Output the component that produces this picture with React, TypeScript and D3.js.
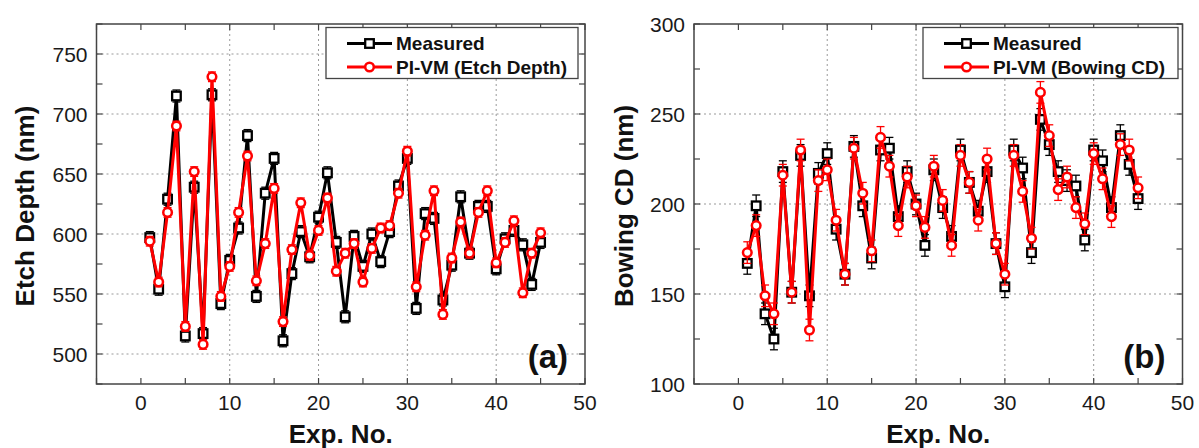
import React from "react";
import * as d3 from "d3";

const expNo = d3.range(1, 46);
const xTicks = [0, 10, 20, 30, 40, 50];

const etchMeasured = [597, 554, 629, 715, 515, 639, 517, 716, 542, 578, 605, 682, 548, 634, 663, 511, 567, 602, 581, 614, 651, 593, 531, 598, 573, 600, 577, 602, 640, 663, 538, 617, 613, 545, 574, 631, 584, 623, 623, 571, 596, 603, 591, 558, 593];
const etchPred = [594, 560, 618, 690, 523, 652, 508, 731, 548, 573, 618, 665, 561, 592, 638, 527, 587, 626, 582, 603, 630, 569, 584, 592, 560, 588, 605, 607, 634, 669, 556, 599, 636, 533, 580, 610, 584, 618, 636, 576, 593, 611, 551, 584, 601];
const etchTicks = [500, 550, 600, 650, 700, 750];
const etchErr = [5, 4];

const bowMeasured = [167, 199, 139, 125, 218, 151, 227, 149, 217, 228, 186, 161, 232, 199, 170, 230, 231, 193, 218, 200, 177, 219, 198, 182, 230, 212, 196, 218, 178, 154, 230, 220, 173, 247, 233, 218, 213, 210, 180, 230, 224, 198, 238, 222, 203];
const bowPred = [173, 188, 149, 139, 216, 151, 230, 130, 213, 219, 191, 161, 231, 206, 174, 237, 221, 188, 215, 199, 187, 221, 202, 177, 227, 212, 191, 225, 178, 161, 227, 207, 181, 262, 238, 208, 215, 198, 189, 228, 214, 193, 233, 230, 209];
const bowTicks = [100, 150, 200, 250, 300];
const bowErr = [6, 6];

const FONT = "'Liberation Sans', Arial, Helvetica, sans-serif";
const FRAME = "#444";

type PanelProps = {
  x0: number;
  x1: number;
  yDomain: [number, number];
  yTicks: number[];
  measured: number[];
  pred: number[];
  err: number[];
  yTitle: string;
  predLabel: string;
  tag: string;
  titleX: number;
  legendLeft: number;
  legendRight: number;
};

function Panel(p: PanelProps) {
  const top = 24;
  const bottom = 384;
  const x = d3.scaleLinear().domain([-5, 50]).range([p.x0, p.x1]);
  const y = d3.scaleLinear().domain(p.yDomain).range([bottom, top]);
  const line = d3
    .line<number>()
    .x((_, i) => x(expNo[i]))
    .y((d) => y(d));
  const minorX = d3.range(-5, 51, 5);
  const minorY = d3.range(p.yDomain[0], p.yDomain[1] + 0.1, (p.yTicks[1] - p.yTicks[0]) / 2);
  const tickLen = 6;
  const cap = 4;

  const errBars = (vals: number[], e: number, color: string) =>
    vals.map((v, i) => {
      const cx = x(expNo[i]);
      const y1 = y(v + e);
      const y2 = y(v - e);
      return (
        <g key={i} stroke={color} strokeWidth={1.3}>
          <line x1={cx} x2={cx} y1={y1} y2={y2} />
          <line x1={cx - cap} x2={cx + cap} y1={y1} y2={y1} />
          <line x1={cx - cap} x2={cx + cap} y1={y2} y2={y2} />
        </g>
      );
    });

  const ly1 = 43.5;
  const ly2 = 67;
  const lx0 = p.legendLeft + 21;
  const lx1 = lx0 + 45;
  const lmx = (lx0 + lx1) / 2;

  return (
    <g>
      {/* grid */}
      {xTicks.slice(1, -1).map((t) => (
        <line key={"gx" + t} x1={x(t)} x2={x(t)} y1={top} y2={bottom} stroke="#999" strokeWidth={1} strokeDasharray="2,3" />
      ))}
      {p.yTicks.filter((t) => t > p.yDomain[0] && t < p.yDomain[1]).map((t) => (
        <line key={"gy" + t} x1={p.x0} x2={p.x1} y1={y(t)} y2={y(t)} stroke="#999" strokeWidth={1} strokeDasharray="2,3" />
      ))}
      {/* ticks */}
      {minorX.map((t) => (
        <g key={"tx" + t} stroke={FRAME} strokeWidth={1.2}>
          <line x1={x(t)} x2={x(t)} y1={bottom} y2={bottom - tickLen} />
          <line x1={x(t)} x2={x(t)} y1={top} y2={top + tickLen} />
        </g>
      ))}
      {minorY.map((t) => (
        <g key={"ty" + t} stroke={FRAME} strokeWidth={1.2}>
          <line x1={p.x0} x2={p.x0 + tickLen} y1={y(t)} y2={y(t)} />
          <line x1={p.x1} x2={p.x1 - tickLen} y1={y(t)} y2={y(t)} />
        </g>
      ))}
      {/* frame */}
      <rect x={p.x0} y={top} width={p.x1 - p.x0} height={bottom - top} fill="none" stroke={FRAME} strokeWidth={1.5} />
      {/* tick labels */}
      {xTicks.map((t) => (
        <text key={"lx" + t} x={x(t)} y={410} textAnchor="middle" fontFamily={FONT} fontSize={21} fill="#1a1a1a">
          {t}
        </text>
      ))}
      {p.yTicks.map((t) => (
        <text key={"ly" + t} x={p.x0 - 9} y={y(t) + 7.5} textAnchor="end" fontFamily={FONT} fontSize={21} fill="#1a1a1a">
          {t}
        </text>
      ))}
      {/* axis titles */}
      <text x={(p.x0 + p.x1) / 2} y={443} textAnchor="middle" fontFamily={FONT} fontSize={26} fontWeight="bold" fill="#111">
        Exp. No.
      </text>
      <text
        transform={`translate(${p.titleX},${(top + bottom) / 2 + 2}) rotate(-90)`}
        textAnchor="middle"
        fontFamily={FONT}
        fontSize={26}
        fontWeight="bold"
        fill="#111"
      >
        {p.yTitle}
      </text>
      {/* measured */}
      {errBars(p.measured, p.err[0], "#000")}
      <path d={line(p.measured) || ""} fill="none" stroke="#000" strokeWidth={3} strokeLinejoin="round" />
      {p.measured.map((v, i) => (
        <rect key={"m" + i} x={x(expNo[i]) - 4.3} y={y(v) - 4.3} width={8.6} height={8.6} fill="#fff" stroke="#000" strokeWidth={2.3} />
      ))}
      {/* predicted */}
      {errBars(p.pred, p.err[1], "#f00")}
      <path d={line(p.pred) || ""} fill="none" stroke="#f00" strokeWidth={3} strokeLinejoin="round" />
      {p.pred.map((v, i) => (
        <circle key={"p" + i} cx={x(expNo[i])} cy={y(v)} r={4.3} fill="#fff" stroke="#f00" strokeWidth={2.5} />
      ))}
      {/* tag */}
      <text x={p.x1 - 17} y={368} textAnchor="end" fontFamily={FONT} fontSize={33} fontWeight="bold" fill="#111">
        {p.tag}
      </text>
      {/* legend */}
      <rect x={p.legendLeft} y={27.5} width={p.legendRight - p.legendLeft} height={51} fill="#fff" stroke={FRAME} strokeWidth={1.3} />
      <line x1={lx0} x2={lx1} y1={ly1} y2={ly1} stroke="#000" strokeWidth={3} />
      <rect x={lmx - 4.3} y={ly1 - 4.3} width={8.6} height={8.6} fill="#fff" stroke="#000" strokeWidth={2.3} />
      <text x={lx1 + 4} y={ly1 + 6.5} fontFamily={FONT} fontSize={19} fontWeight="bold" fill="#111">
        Measured
      </text>
      <line x1={lx0} x2={lx1} y1={ly2} y2={ly2} stroke="#f00" strokeWidth={3} />
      <circle cx={lmx} cy={ly2} r={4.3} fill="#fff" stroke="#f00" strokeWidth={2.5} />
      <text x={lx1 + 4} y={ly2 + 6.5} fontFamily={FONT} fontSize={19} fontWeight="bold" fill="#111">
        {p.predLabel}
      </text>
    </g>
  );
}

export default function App() {
  return (
    <svg width={1199} height={448} style={{ position: "absolute", left: 0, top: 0, background: "#fff" }}>
      <rect width={1199} height={448} fill="#fff" />
      <Panel
        x0={96.5}
        x1={585}
        yDomain={[475, 775]}
        yTicks={etchTicks}
        measured={etchMeasured}
        pred={etchPred}
        err={etchErr}
        yTitle="Etch Depth (nm)"
        predLabel="PI-VM (Etch Depth)"
        tag="(a)"
        titleX={34}
        legendLeft={326}
        legendRight={578}
      />
      <Panel
        x0={694}
        x1={1182.5}
        yDomain={[100, 300]}
        yTicks={bowTicks}
        measured={bowMeasured}
        pred={bowPred}
        err={bowErr}
        yTitle="Bowing CD (nm)"
        predLabel="PI-VM (Bowing CD)"
        tag="(b)"
        titleX={633}
        legendLeft={923}
        legendRight={1178}
      />
    </svg>
  );
}
